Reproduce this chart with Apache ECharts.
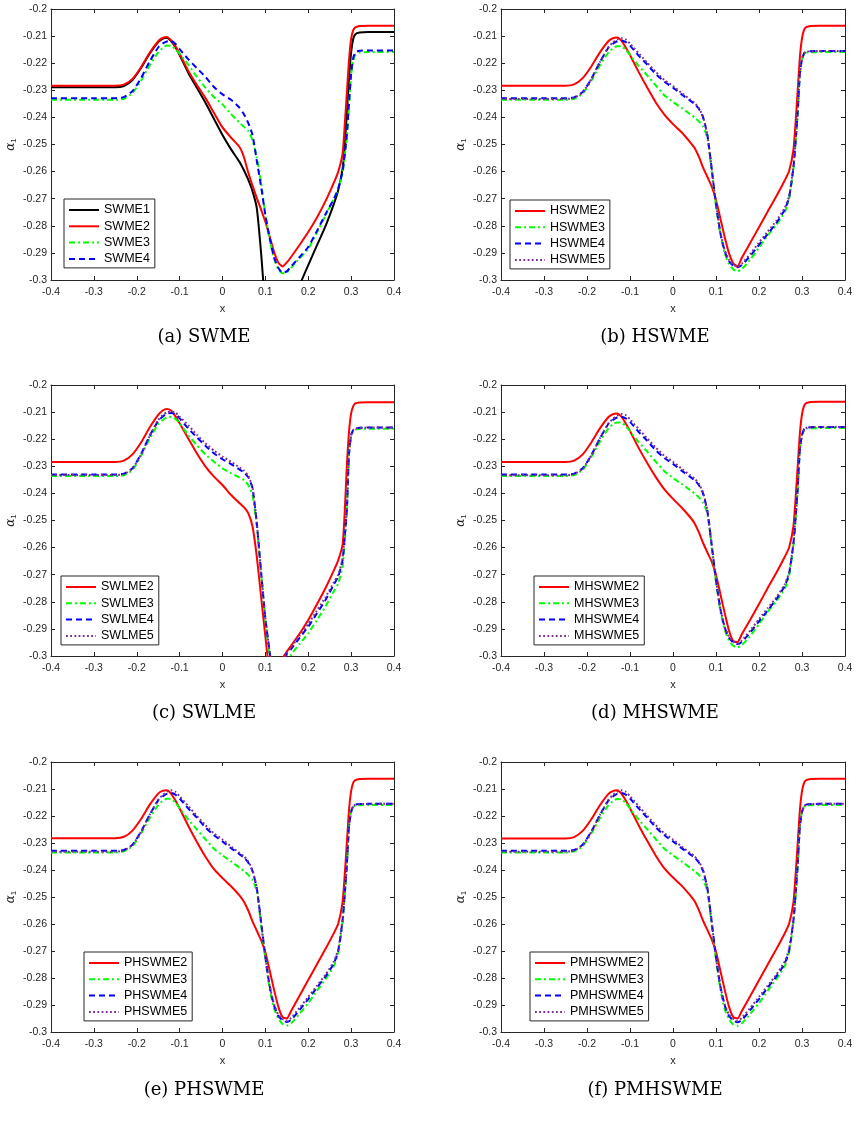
<!DOCTYPE html>
<html>
<head>
<meta charset="utf-8">
<script src="https://cdn.jsdelivr.net/npm/echarts@6/dist/echarts.min.js"></script>
<style>html,body{margin:0;padding:0;background:#fff}#chart{width:859px;height:1126px}</style>
</head>
<body>
<div id="chart"></div>
<script>
// shared x sample points (all curves at these x)
var xs = [-0.4, -0.3, -0.25, -0.23, -0.21, -0.19, -0.17, -0.15, -0.14, -0.13, -0.12, -0.11,
  -0.1, -0.08, -0.06, -0.04, -0.02, 0, 0.02, 0.04, 0.05, 0.06, 0.07, 0.08,
  0.09, 0.1, 0.11, 0.12, 0.13, 0.14, 0.15, 0.16, 0.18, 0.2, 0.22, 0.24,
  0.26, 0.27, 0.28, 0.285, 0.29, 0.295, 0.3, 0.305, 0.31, 0.32, 0.34, 0.4];

// (a) SWME
var swme1 = [-0.2289, -0.2289, -0.2289, -0.2284, -0.2262, -0.2218, -0.2165, -0.2122, -0.2110, -0.2106, -0.2118, -0.2140,
  -0.2170, -0.2235, -0.2290, -0.2345, -0.2405, -0.2465, -0.2518, -0.2565, -0.2595, -0.2630, -0.2672, -0.2735,
  -0.2900, -0.3100, -0.3200, -0.3250, -0.3260, -0.3250, -0.3200, -0.3130, -0.3020, -0.2945, -0.2873, -0.2802,
  -0.2718, -0.2668, -0.2590, -0.2510, -0.2385, -0.2260, -0.2160, -0.2110, -0.2093, -0.2087, -0.2085, -0.2085];
var swme2 = [-0.2283, -0.2283, -0.2283, -0.2279, -0.2258, -0.2215, -0.2162, -0.2119, -0.2107, -0.2103, -0.2115, -0.2137,
  -0.2165, -0.2228, -0.2280, -0.2328, -0.2383, -0.2437, -0.2475, -0.2510, -0.2547, -0.2603, -0.2652, -0.2698,
  -0.2740, -0.2785, -0.2840, -0.2895, -0.2935, -0.2950, -0.2935, -0.2915, -0.2870, -0.2823, -0.2770, -0.2710,
  -0.2640, -0.2600, -0.2535, -0.2430, -0.2310, -0.2190, -0.2110, -0.2078, -0.2068, -0.2063, -0.2062, -0.2062];
var swme3 = [-0.2335, -0.2335, -0.2335, -0.2331, -0.2310, -0.2265, -0.2208, -0.2160, -0.2145, -0.2135, -0.2136, -0.2148,
  -0.2165, -0.2205, -0.2250, -0.2290, -0.2325, -0.2352, -0.2388, -0.2420, -0.2435, -0.2450, -0.2485, -0.2548,
  -0.2640, -0.2760, -0.2850, -0.2920, -0.2960, -0.2975, -0.2972, -0.2955, -0.2920, -0.2885, -0.2825, -0.2763,
  -0.2700, -0.2665, -0.2605, -0.2545, -0.2475, -0.2360, -0.2245, -0.2190, -0.2168, -0.2161, -0.2159, -0.2159];
var swme4 = [-0.2329, -0.2329, -0.2329, -0.2325, -0.2303, -0.2255, -0.2194, -0.2142, -0.2128, -0.2120, -0.2118, -0.2128,
  -0.2148, -0.2185, -0.2218, -0.2250, -0.2288, -0.2315, -0.2335, -0.2365, -0.2388, -0.2420, -0.2465, -0.2560,
  -0.2655, -0.2760, -0.2845, -0.2915, -0.2955, -0.2973, -0.2968, -0.2950, -0.2915, -0.2878, -0.2820, -0.2758,
  -0.2700, -0.2662, -0.2600, -0.2540, -0.2465, -0.2350, -0.2238, -0.2180, -0.2160, -0.2154, -0.2153, -0.2153];

// (b) HSWME
var hswme2 = [-0.2283, -0.2283, -0.2283, -0.2278, -0.2255, -0.2212, -0.2160, -0.2118, -0.2108, -0.2105, -0.2117, -0.2142,
  -0.2170, -0.2232, -0.2290, -0.2345, -0.2390, -0.2425, -0.2455, -0.2492, -0.2512, -0.2545, -0.2585, -0.2620,
  -0.2655, -0.2705, -0.2772, -0.2840, -0.2900, -0.2938, -0.2950, -0.2918, -0.2862, -0.2805, -0.2748, -0.2692,
  -0.2632, -0.2598, -0.2520, -0.2420, -0.2300, -0.2180, -0.2108, -0.2076, -0.2067, -0.2063, -0.2062, -0.2062];
var hswme3 = [-0.2335, -0.2335, -0.2335, -0.2331, -0.2312, -0.2265, -0.2208, -0.2160, -0.2145, -0.2137, -0.2138, -0.2150,
  -0.2170, -0.2210, -0.2245, -0.2282, -0.2318, -0.2343, -0.2365, -0.2388, -0.2400, -0.2414, -0.2434, -0.2475,
  -0.2595, -0.2725, -0.2830, -0.2900, -0.2940, -0.2960, -0.2968, -0.2960, -0.2924, -0.2880, -0.2836, -0.2797,
  -0.2750, -0.2700, -0.2590, -0.2500, -0.2390, -0.2240, -0.2185, -0.2166, -0.2161, -0.2160, -0.2159, -0.2159];
var hswme4 = [-0.2329, -0.2329, -0.2329, -0.2326, -0.2306, -0.2258, -0.2196, -0.2142, -0.2128, -0.2119, -0.2116, -0.2122,
  -0.2135, -0.2172, -0.2205, -0.2240, -0.2268, -0.2290, -0.2315, -0.2338, -0.2350, -0.2368, -0.2400, -0.2465,
  -0.2590, -0.2720, -0.2825, -0.2892, -0.2930, -0.2947, -0.2953, -0.2945, -0.2910, -0.2870, -0.2830, -0.2790,
  -0.2740, -0.2695, -0.2585, -0.2490, -0.2380, -0.2240, -0.2185, -0.2163, -0.2158, -0.2156, -0.2155, -0.2155];
var hswme5 = [-0.2332, -0.2332, -0.2332, -0.2328, -0.2307, -0.2258, -0.2196, -0.2140, -0.2124, -0.2112, -0.2108, -0.2112,
  -0.2128, -0.2163, -0.2198, -0.2232, -0.2262, -0.2284, -0.2310, -0.2334, -0.2346, -0.2365, -0.2398, -0.2465,
  -0.2590, -0.2720, -0.2822, -0.2888, -0.2925, -0.2943, -0.2950, -0.2940, -0.2903, -0.2862, -0.2822, -0.2782,
  -0.2733, -0.2690, -0.2580, -0.2488, -0.2378, -0.2240, -0.2185, -0.2163, -0.2158, -0.2156, -0.2155, -0.2155];

// (c) SWLME
var swlme2 = [-0.2284, -0.2284, -0.2284, -0.2279, -0.2256, -0.2212, -0.2157, -0.2110, -0.2095, -0.2089, -0.2094, -0.2115,
  -0.2141, -0.2197, -0.2252, -0.2300, -0.2338, -0.2369, -0.2406, -0.2436, -0.2451, -0.2473, -0.2522, -0.2633,
  -0.2781, -0.2928, -0.3070, -0.3150, -0.3120, -0.3010, -0.2984, -0.2962, -0.2917, -0.2867, -0.2810, -0.2750,
  -0.2683, -0.2646, -0.2590, -0.2470, -0.2300, -0.2175, -0.2105, -0.2078, -0.2068, -0.2065, -0.2064, -0.2064];
var swlme3 = [-0.2336, -0.2336, -0.2336, -0.2333, -0.2314, -0.2262, -0.2198, -0.2145, -0.2130, -0.2120, -0.2117, -0.2125,
  -0.2141, -0.2184, -0.2222, -0.2256, -0.2283, -0.2308, -0.2325, -0.2342, -0.2351, -0.2369, -0.2406, -0.2522,
  -0.2695, -0.2867, -0.3000, -0.3120, -0.3150, -0.3110, -0.3040, -0.2995, -0.2955, -0.2916, -0.2868, -0.2818,
  -0.2760, -0.2732, -0.2671, -0.2580, -0.2470, -0.2260, -0.2190, -0.2170, -0.2164, -0.2162, -0.2161, -0.2161];
var swlme4 = [-0.2330, -0.2330, -0.2330, -0.2327, -0.2307, -0.2255, -0.2188, -0.2133, -0.2117, -0.2106, -0.2103, -0.2107,
  -0.2123, -0.2160, -0.2193, -0.2224, -0.2252, -0.2274, -0.2292, -0.2312, -0.2323, -0.2340, -0.2381, -0.2510,
  -0.2690, -0.2862, -0.2985, -0.3100, -0.3120, -0.3060, -0.2993, -0.2975, -0.2932, -0.2892, -0.2843, -0.2794,
  -0.2735, -0.2707, -0.2646, -0.2560, -0.2460, -0.2255, -0.2185, -0.2166, -0.2160, -0.2158, -0.2157, -0.2157];
var swlme5 = [-0.2332, -0.2332, -0.2332, -0.2329, -0.2308, -0.2256, -0.2188, -0.2130, -0.2112, -0.2101, -0.2098, -0.2102,
  -0.2117, -0.2148, -0.2183, -0.2215, -0.2242, -0.2264, -0.2283, -0.2305, -0.2316, -0.2335, -0.2378, -0.2508,
  -0.2688, -0.2860, -0.2985, -0.3100, -0.3120, -0.3050, -0.2988, -0.2968, -0.2925, -0.2882, -0.2833, -0.2784,
  -0.2727, -0.2700, -0.2640, -0.2555, -0.2455, -0.2253, -0.2185, -0.2166, -0.2160, -0.2158, -0.2157, -0.2157];

// (d) MHSWME
var mhswme2 = [-0.2284, -0.2284, -0.2284, -0.2279, -0.2256, -0.2212, -0.2160, -0.2118, -0.2108, -0.2105, -0.2117, -0.2142,
  -0.2170, -0.2232, -0.2288, -0.2340, -0.2385, -0.2420, -0.2452, -0.2488, -0.2510, -0.2543, -0.2583, -0.2618,
  -0.2652, -0.2700, -0.2770, -0.2840, -0.2905, -0.2945, -0.2948, -0.2920, -0.2865, -0.2808, -0.2750, -0.2694,
  -0.2634, -0.2600, -0.2522, -0.2420, -0.2300, -0.2180, -0.2108, -0.2076, -0.2067, -0.2063, -0.2062, -0.2062];
var mhswme3 = [-0.2336, -0.2336, -0.2336, -0.2332, -0.2313, -0.2266, -0.2209, -0.2160, -0.2145, -0.2138, -0.2139, -0.2151,
  -0.2171, -0.2211, -0.2246, -0.2283, -0.2318, -0.2343, -0.2365, -0.2388, -0.2400, -0.2414, -0.2434, -0.2475,
  -0.2600, -0.2725, -0.2832, -0.2902, -0.2942, -0.2962, -0.2968, -0.2960, -0.2925, -0.2882, -0.2838, -0.2798,
  -0.2752, -0.2702, -0.2592, -0.2500, -0.2390, -0.2240, -0.2185, -0.2166, -0.2161, -0.2160, -0.2159, -0.2159];
var mhswme4 = [-0.2330, -0.2330, -0.2330, -0.2327, -0.2307, -0.2259, -0.2197, -0.2143, -0.2129, -0.2120, -0.2117, -0.2123,
  -0.2136, -0.2173, -0.2206, -0.2241, -0.2269, -0.2291, -0.2316, -0.2339, -0.2351, -0.2369, -0.2401, -0.2466,
  -0.2590, -0.2720, -0.2825, -0.2893, -0.2932, -0.2950, -0.2956, -0.2948, -0.2912, -0.2872, -0.2832, -0.2791,
  -0.2741, -0.2696, -0.2586, -0.2490, -0.2380, -0.2240, -0.2185, -0.2163, -0.2158, -0.2156, -0.2155, -0.2155];
var mhswme5 = [-0.2333, -0.2333, -0.2333, -0.2329, -0.2308, -0.2259, -0.2197, -0.2141, -0.2125, -0.2113, -0.2107, -0.2111,
  -0.2127, -0.2162, -0.2197, -0.2231, -0.2261, -0.2283, -0.2309, -0.2333, -0.2345, -0.2364, -0.2397, -0.2464,
  -0.2590, -0.2720, -0.2822, -0.2890, -0.2928, -0.2946, -0.2953, -0.2943, -0.2905, -0.2864, -0.2824, -0.2784,
  -0.2735, -0.2691, -0.2581, -0.2488, -0.2378, -0.2240, -0.2185, -0.2163, -0.2158, -0.2156, -0.2155, -0.2155];

// (e) PHSWME
var phswme2 = [-0.2282, -0.2282, -0.2282, -0.2277, -0.2254, -0.2211, -0.2159, -0.2117, -0.2107, -0.2105, -0.2117, -0.2142,
  -0.2172, -0.2236, -0.2295, -0.2350, -0.2397, -0.2430, -0.2460, -0.2495, -0.2518, -0.2550, -0.2590, -0.2625,
  -0.2660, -0.2705, -0.2772, -0.2842, -0.2905, -0.2945, -0.2950, -0.2922, -0.2865, -0.2807, -0.2750, -0.2693,
  -0.2633, -0.2598, -0.2520, -0.2420, -0.2300, -0.2180, -0.2108, -0.2076, -0.2067, -0.2063, -0.2062, -0.2062];
var phswme3 = [-0.2335, -0.2335, -0.2335, -0.2331, -0.2312, -0.2265, -0.2208, -0.2160, -0.2145, -0.2136, -0.2137, -0.2150,
  -0.2172, -0.2213, -0.2249, -0.2286, -0.2321, -0.2346, -0.2368, -0.2392, -0.2404, -0.2418, -0.2437, -0.2478,
  -0.2605, -0.2730, -0.2840, -0.2912, -0.2950, -0.2970, -0.2976, -0.2968, -0.2932, -0.2893, -0.2848, -0.2805,
  -0.2755, -0.2705, -0.2595, -0.2500, -0.2390, -0.2240, -0.2185, -0.2166, -0.2161, -0.2160, -0.2159, -0.2159];
var phswme4 = [-0.2329, -0.2329, -0.2329, -0.2326, -0.2306, -0.2258, -0.2196, -0.2142, -0.2128, -0.2118, -0.2115, -0.2121,
  -0.2135, -0.2172, -0.2206, -0.2242, -0.2271, -0.2294, -0.2319, -0.2342, -0.2354, -0.2372, -0.2404, -0.2468,
  -0.2592, -0.2722, -0.2830, -0.2900, -0.2940, -0.2956, -0.2963, -0.2955, -0.2918, -0.2878, -0.2836, -0.2795,
  -0.2745, -0.2698, -0.2588, -0.2490, -0.2380, -0.2240, -0.2185, -0.2163, -0.2158, -0.2156, -0.2155, -0.2155];
var phswme5 = [-0.2332, -0.2332, -0.2332, -0.2328, -0.2307, -0.2258, -0.2196, -0.2140, -0.2123, -0.2110, -0.2105, -0.2110,
  -0.2127, -0.2163, -0.2199, -0.2234, -0.2264, -0.2287, -0.2313, -0.2337, -0.2349, -0.2368, -0.2400, -0.2466,
  -0.2592, -0.2722, -0.2827, -0.2896, -0.2935, -0.2952, -0.2958, -0.2948, -0.2910, -0.2870, -0.2829, -0.2788,
  -0.2738, -0.2693, -0.2583, -0.2488, -0.2378, -0.2240, -0.2185, -0.2163, -0.2158, -0.2156, -0.2155, -0.2155];

// (f) PMHSWME
var pmhswme2 = [-0.2283, -0.2283, -0.2283, -0.2278, -0.2255, -0.2212, -0.2160, -0.2118, -0.2108, -0.2105, -0.2117, -0.2142,
  -0.2171, -0.2234, -0.2292, -0.2347, -0.2394, -0.2428, -0.2458, -0.2494, -0.2515, -0.2548, -0.2588, -0.2622,
  -0.2657, -0.2703, -0.2772, -0.2842, -0.2905, -0.2945, -0.2950, -0.2922, -0.2866, -0.2808, -0.2751, -0.2694,
  -0.2634, -0.2599, -0.2521, -0.2420, -0.2300, -0.2180, -0.2108, -0.2076, -0.2067, -0.2063, -0.2062, -0.2062];
var pmhswme3 = [-0.2335, -0.2335, -0.2335, -0.2331, -0.2312, -0.2265, -0.2208, -0.2160, -0.2145, -0.2137, -0.2138, -0.2151,
  -0.2172, -0.2213, -0.2249, -0.2286, -0.2321, -0.2346, -0.2368, -0.2392, -0.2404, -0.2418, -0.2437, -0.2478,
  -0.2605, -0.2730, -0.2840, -0.2914, -0.2952, -0.2972, -0.2977, -0.2968, -0.2932, -0.2893, -0.2848, -0.2805,
  -0.2755, -0.2705, -0.2595, -0.2500, -0.2390, -0.2240, -0.2185, -0.2166, -0.2161, -0.2160, -0.2159, -0.2159];
var pmhswme4 = [-0.2329, -0.2329, -0.2329, -0.2326, -0.2306, -0.2258, -0.2196, -0.2142, -0.2128, -0.2118, -0.2115, -0.2121,
  -0.2135, -0.2172, -0.2206, -0.2242, -0.2271, -0.2294, -0.2319, -0.2342, -0.2354, -0.2372, -0.2404, -0.2468,
  -0.2592, -0.2722, -0.2830, -0.2900, -0.2940, -0.2957, -0.2964, -0.2956, -0.2918, -0.2878, -0.2836, -0.2795,
  -0.2745, -0.2698, -0.2588, -0.2490, -0.2380, -0.2240, -0.2185, -0.2163, -0.2158, -0.2156, -0.2155, -0.2155];
var pmhswme5 = [-0.2332, -0.2332, -0.2332, -0.2328, -0.2307, -0.2258, -0.2196, -0.2140, -0.2123, -0.2110, -0.2105, -0.2110,
  -0.2127, -0.2163, -0.2199, -0.2234, -0.2264, -0.2287, -0.2313, -0.2337, -0.2349, -0.2368, -0.2400, -0.2466,
  -0.2592, -0.2722, -0.2827, -0.2896, -0.2935, -0.2952, -0.2958, -0.2948, -0.2910, -0.2870, -0.2829, -0.2788,
  -0.2738, -0.2693, -0.2583, -0.2488, -0.2378, -0.2240, -0.2185, -0.2163, -0.2158, -0.2156, -0.2155, -0.2155];

var captions = ['(a) SWME', '(b) HSWME', '(c) SWLME', '(d) MHSWME', '(e) PHSWME', '(f) PMHSWME'];
var panelNames = [
  ['SWME1', 'SWME2', 'SWME3', 'SWME4'],
  ['HSWME2', 'HSWME3', 'HSWME4', 'HSWME5'],
  ['SWLME2', 'SWLME3', 'SWLME4', 'SWLME5'],
  ['MHSWME2', 'MHSWME3', 'MHSWME4', 'MHSWME5'],
  ['PHSWME2', 'PHSWME3', 'PHSWME4', 'PHSWME5'],
  ['PMHSWME2', 'PMHSWME3', 'PMHSWME4', 'PMHSWME5']
];
var panelValues = [
  [swme1, swme2, swme3, swme4],
  [hswme2, hswme3, hswme4, hswme5],
  [swlme2, swlme3, swlme4, swlme5],
  [mhswme2, mhswme3, mhswme4, mhswme5],
  [phswme2, phswme3, phswme4, phswme5],
  [pmhswme2, pmhswme3, pmhswme4, pmhswme5]
];
var panelStyles = [
  ['black', 'red', 'green', 'blue'],
  ['red', 'green', 'blue', 'purple'],
  ['red', 'green', 'blue', 'purple'],
  ['red', 'green', 'blue', 'purple'],
  ['red', 'green', 'blue', 'purple'],
  ['red', 'green', 'blue', 'purple']
];

// layout (pixels)
var gridBoxes = [[51, 9, 343, 271], [501, 9, 344, 271], [51, 385, 343, 271],
  [501, 385, 344, 271], [51, 762, 343, 270], [501, 762, 344, 270]];
var legendBoxes = [[64, 199], [510, 200], [61, 576], [534, 576], [84, 952], [530, 952]];
var captionPos = [[204, 337], [655, 337], [204, 713], [655, 713], [204, 1090], [655, 1090]];

var lineLook = {
  black: {color: '#000000', type: 'solid'},
  red: {color: '#ff0000', type: 'solid'},
  green: {color: '#00ff00', type: [6, 3, 2, 3]},
  blue: {color: '#0000ff', type: [6, 4]},
  purple: {color: '#7e2f8e', type: [1.8, 2.4]}
};

var axisCol = '#262626';
var sans = 'Liberation Sans';

var grids = [], xAxes = [], yAxes = [], series = [], legends = [], graphics = [];

for (var i = 0; i < 6; i++) {
  var g = gridBoxes[i];
  grids.push({left: g[0], top: g[1], width: g[2], height: g[3], outerBoundsMode: 'none'});

  var lineSt = {color: axisCol, width: 1};
  xAxes.push({
    type: 'value', gridIndex: i, position: 'bottom', min: -0.4, max: 0.4, interval: 0.1,
    name: 'x', nameLocation: 'middle', nameGap: 23,
    nameTextStyle: {color: axisCol, fontSize: 11, fontFamily: sans},
    axisLine: {onZero: false, lineStyle: lineSt},
    axisTick: {inside: true, length: 4, lineStyle: lineSt},
    axisLabel: {margin: 7, fontSize: 10.5, color: axisCol, fontFamily: sans,
      formatter: function (v) { return String(Math.round(v * 10) / 10); }},
    splitLine: {show: false}
  });
  xAxes.push({
    type: 'value', gridIndex: i, position: 'top', min: -0.4, max: 0.4, interval: 0.1,
    axisLine: {onZero: false, lineStyle: lineSt},
    axisTick: {inside: true, length: 4, lineStyle: lineSt},
    axisLabel: {show: false}, splitLine: {show: false}
  });
  yAxes.push({
    type: 'value', gridIndex: i, position: 'left', min: -0.3, max: -0.2, interval: 0.01,
    name: '{a|α}{s|1}', nameLocation: 'middle', nameGap: 33,
    nameTextStyle: {color: axisCol, rich: {
      a: {fontSize: 12, fontFamily: 'DejaVu Serif', fontStyle: 'italic', color: axisCol},
      s: {fontSize: 8, fontFamily: sans, color: axisCol, padding: [7, 0, 0, 0]}
    }},
    axisLine: {onZero: false, lineStyle: lineSt},
    axisTick: {inside: true, length: 4, lineStyle: lineSt},
    axisLabel: {margin: 4, fontSize: 10.5, color: axisCol, fontFamily: sans,
      formatter: function (v) { return String(Math.round(v * 100) / 100); }},
    splitLine: {show: false}
  });
  yAxes.push({
    type: 'value', gridIndex: i, position: 'right', min: -0.3, max: -0.2, interval: 0.01,
    axisLine: {onZero: false, lineStyle: lineSt},
    axisTick: {inside: true, length: 4, lineStyle: lineSt},
    axisLabel: {show: false}, splitLine: {show: false}
  });

  for (var k = 0; k < 4; k++) {
    var look = lineLook[panelStyles[i][k]];
    var ys = panelValues[i][k];
    series.push({
      type: 'line', name: panelNames[i][k],
      xAxisIndex: 2 * i, yAxisIndex: 2 * i,
      data: xs.map(function (x, j) { return [x, ys[j]]; }),
      symbol: 'none', showSymbol: false,
      smooth: 0.2, clip: true,
      lineStyle: {color: look.color, width: 2, type: look.type},
      itemStyle: {color: look.color},
      emphasis: {disabled: true},
      animation: false
    });
  }

  legends.push({
    orient: 'vertical', left: legendBoxes[i][0], top: legendBoxes[i][1],
    data: panelNames[i], selectedMode: false,
    itemWidth: 30, itemHeight: 14, itemGap: 2.3,
    padding: [4, 5, 2, 4],
    backgroundColor: '#ffffff', borderColor: axisCol, borderWidth: 1, borderRadius: 0,
    itemStyle: {opacity: 0, borderWidth: 0},
    textStyle: {fontSize: 12.5, color: '#000', fontFamily: sans, lineHeight: 14}
  });

  graphics.push({
    type: 'text', x: captionPos[i][0], y: captionPos[i][1],
    style: {text: captions[i], fill: '#000', fontSize: 18, fontFamily: 'DejaVu Serif',
      align: 'center', verticalAlign: 'middle', textAlign: 'center', textVerticalAlign: 'middle'}
  });
}

var chart = echarts.init(document.getElementById('chart'), null, {renderer: 'canvas'});
chart.setOption({
  animation: false,
  backgroundColor: '#ffffff',
  textStyle: {fontFamily: sans},
  grid: grids,
  xAxis: xAxes,
  yAxis: yAxes,
  legend: legends,
  series: series,
  graphic: graphics
});
</script>
</body>
</html>
